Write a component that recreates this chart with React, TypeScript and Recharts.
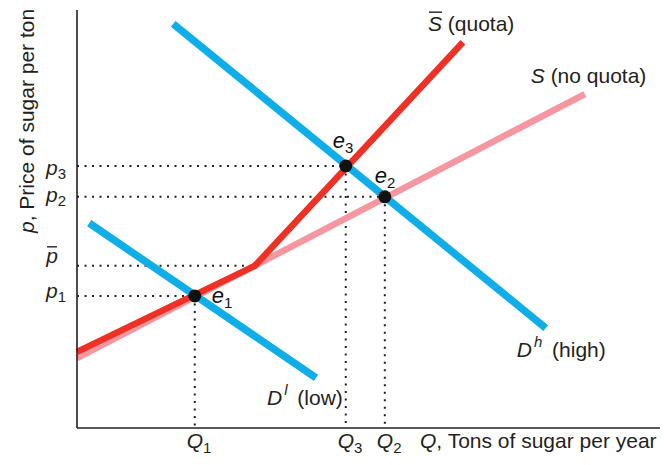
import React from 'react';
import { ComposedChart, Line, XAxis, YAxis, ReferenceDot } from 'recharts';

// quantity (x) and price (y) on a 0-100 scale
const quantityTicks = [20.2, 46.1, 52.8];
const quantityLabels = ['1', '3', '2'];
const priceTicks = [31.6, 38.8, 55.3, 62.7];
const priceLabels = ['1', 'bar', '2', '3'];

const supplyNoQuota = [
  { q: 0, p: 16.7 },
  { q: 87.1, p: 79.9 },
];
const supplyQuota = [
  { q: 0, p: 18.2 },
  { q: 30.5, p: 38.8 },
  { q: 66.2, p: 92.3 },
];
const demandHigh = [
  { q: 16.5, p: 96.7 },
  { q: 80.4, p: 23.9 },
];
const demandLow = [
  { q: 2.1, p: 49.0 },
  { q: 41.0, p: 12.0 },
];
const equilibria = [
  { id: '1', q: 20.2, p: 31.6 },
  { id: '3', q: 46.1, p: 62.7 },
  { id: '2', q: 52.8, p: 55.3 },
];
const quotaKink = { q: 30.5, p: 38.8 };

const FONT = '"Liberation Sans", Arial, Helvetica, sans-serif';
const INK = '#231f20';
const BLUE = '#10aee9';
const RED = '#ee3124';
const PINK = '#f596a0';
const FS = 21;
const SUB = 15;

// guide lines built from the points above
const guides: { q: number; p: number }[][] = [];
equilibria.forEach((e) => {
  guides.push([{ q: 0, p: e.p }, { q: e.q, p: e.p }]);
  guides.push([{ q: e.q, p: e.p }, { q: e.q, p: 0 }]);
});
guides.push([{ q: 0, p: quotaKink.p }, { q: quotaKink.q, p: quotaKink.p }]);

const eqOffset: Record<string, [number, number]> = {
  '1': [17, 7],
  '3': [-13, -18],
  '2': [-10, -14],
};
const priceDy: Record<string, number> = { '1': 2, bar: -3, '2': 5, '3': 9 };

const PriceTick = (props: any) => {
  const { y, index } = props;
  const lab = priceLabels[index];
  if (lab === 'bar') {
    return (
      <g fontFamily={FONT} fill={INK}>
        <text x={58} y={y + priceDy[lab]} textAnchor="end" fontSize={FS} fontStyle="italic">p</text>
        <line x1={47} x2={57} y1={y - 19} y2={y - 19} stroke={INK} strokeWidth={1.4} />
      </g>
    );
  }
  return (
    <text x={66} y={y + priceDy[lab]} textAnchor="end" fontFamily={FONT} fill={INK} fontSize={FS}>
      <tspan fontStyle="italic">p</tspan>
      <tspan fontSize={SUB} dy={4}>{lab}</tspan>
    </text>
  );
};

const QuantityTick = (props: any) => {
  const { x, index } = props;
  return (
    <text x={x - 8} y={448} fontFamily={FONT} fill={INK} fontSize={FS}>
      <tspan fontStyle="italic">Q</tspan>
      <tspan fontSize={SUB} dy={5}>{quantityLabels[index]}</tspan>
    </text>
  );
};

const curveLabel = (main: string, sup: string | null, rest: string, dx: number, dy: number, bar = false) =>
  (props: any) => {
    const { cx, cy } = props;
    const x = cx + dx;
    const y = cy + dy;
    return (
      <g fontFamily={FONT} fill={INK}>
        <text x={x} y={y} fontSize={FS}>
          <tspan fontStyle="italic">{main}</tspan>
          {sup ? <tspan fontStyle="italic" fontSize={SUB} dx={2} dy={-10}>{sup}</tspan> : null}
          <tspan dy={sup ? 10 : 0} dx={sup ? 4 : 0}>{rest}</tspan>
        </text>
        {bar ? <line x1={x + 1} x2={x + 14} y1={y - 19} y2={y - 19} stroke={INK} strokeWidth={1.4} /> : null}
      </g>
    );
  };

const EqDot = (id: string) => (props: any) => {
  const { cx, cy } = props;
  const [dx, dy] = eqOffset[id];
  return (
    <g fontFamily={FONT} fill="#111">
      <circle cx={cx} cy={cy} r={6.5} fill="#111" />
      <text x={cx + dx} y={cy + dy} fontSize={22} fontStyle="italic">
        e<tspan fontStyle="normal" fontSize={SUB} dy={5}>{id}</tspan>
      </text>
    </g>
  );
};

export default function App() {
  const last = (a: { q: number; p: number }[]) => a[a.length - 1];
  return (
    <div style={{ position: 'absolute', left: 0, top: 0 }}>
      <ComposedChart width={664} height={465} margin={{ top: 10, right: 4, left: 0, bottom: 0 }}>
        <XAxis
          dataKey="q"
          type="number"
          domain={[0, 100]}
          ticks={quantityTicks}
          tick={<QuantityTick />}
          tickLine={false}
          axisLine={{ stroke: INK, strokeWidth: 1.6 }}
          height={37}
          interval={0}
          label={{
            content: () => (
              <text x={420} y={448} fontFamily={FONT} fill={INK} fontSize={FS}>
                <tspan fontStyle="italic">Q</tspan>, Tons of sugar per year
              </text>
            ),
          }}
        />
        <YAxis
          dataKey="p"
          type="number"
          domain={[0, 100]}
          ticks={priceTicks}
          tick={<PriceTick />}
          tickLine={false}
          axisLine={{ stroke: INK, strokeWidth: 1.6 }}
          width={77}
          interval={0}
          label={{
            content: () => (
              <text x={34} y={233} transform="rotate(-90 34 233)" fontFamily={FONT} fill={INK} fontSize={FS}>
                <tspan fontStyle="italic">p</tspan>, Price of sugar per ton
              </text>
            ),
          }}
        />
        {guides.map((g, i) => (
          <Line
            key={'g' + i}
            data={g}
            dataKey="p"
            stroke={INK}
            strokeWidth={2}
            strokeDasharray="2 5.5"
            dot={false}
            activeDot={false}
            isAnimationActive={false}
          />
        ))}
        <Line data={supplyNoQuota} dataKey="p" stroke={PINK} strokeWidth={6.5} dot={false} isAnimationActive={false} />
        <Line data={supplyQuota} dataKey="p" stroke={RED} strokeWidth={6.5} dot={false} isAnimationActive={false} />
        <Line data={demandLow} dataKey="p" stroke={BLUE} strokeWidth={7.5} dot={false} isAnimationActive={false} />
        <Line data={demandHigh} dataKey="p" stroke={BLUE} strokeWidth={7.5} dot={false} isAnimationActive={false} />
        {equilibria.map((e) => (
          <ReferenceDot key={e.id} x={e.q} y={e.p} r={6} shape={EqDot(e.id)} />
        ))}
        <ReferenceDot x={last(supplyQuota).q} y={last(supplyQuota).p} shape={curveLabel('S', null, ' (quota)', -35, -11, true)} />
        <ReferenceDot x={last(supplyNoQuota).q} y={last(supplyNoQuota).p} shape={curveLabel('S', null, ' (no quota)', -54, -11)} />
        <ReferenceDot x={last(demandHigh).q} y={last(demandHigh).p} shape={curveLabel('D', 'h', ' (high)', -29, 29)} />
        <ReferenceDot x={last(demandLow).q} y={last(demandLow).p} shape={curveLabel('D', 'l', ' (low)', -49, 27)} />
      </ComposedChart>
    </div>
  );
}
